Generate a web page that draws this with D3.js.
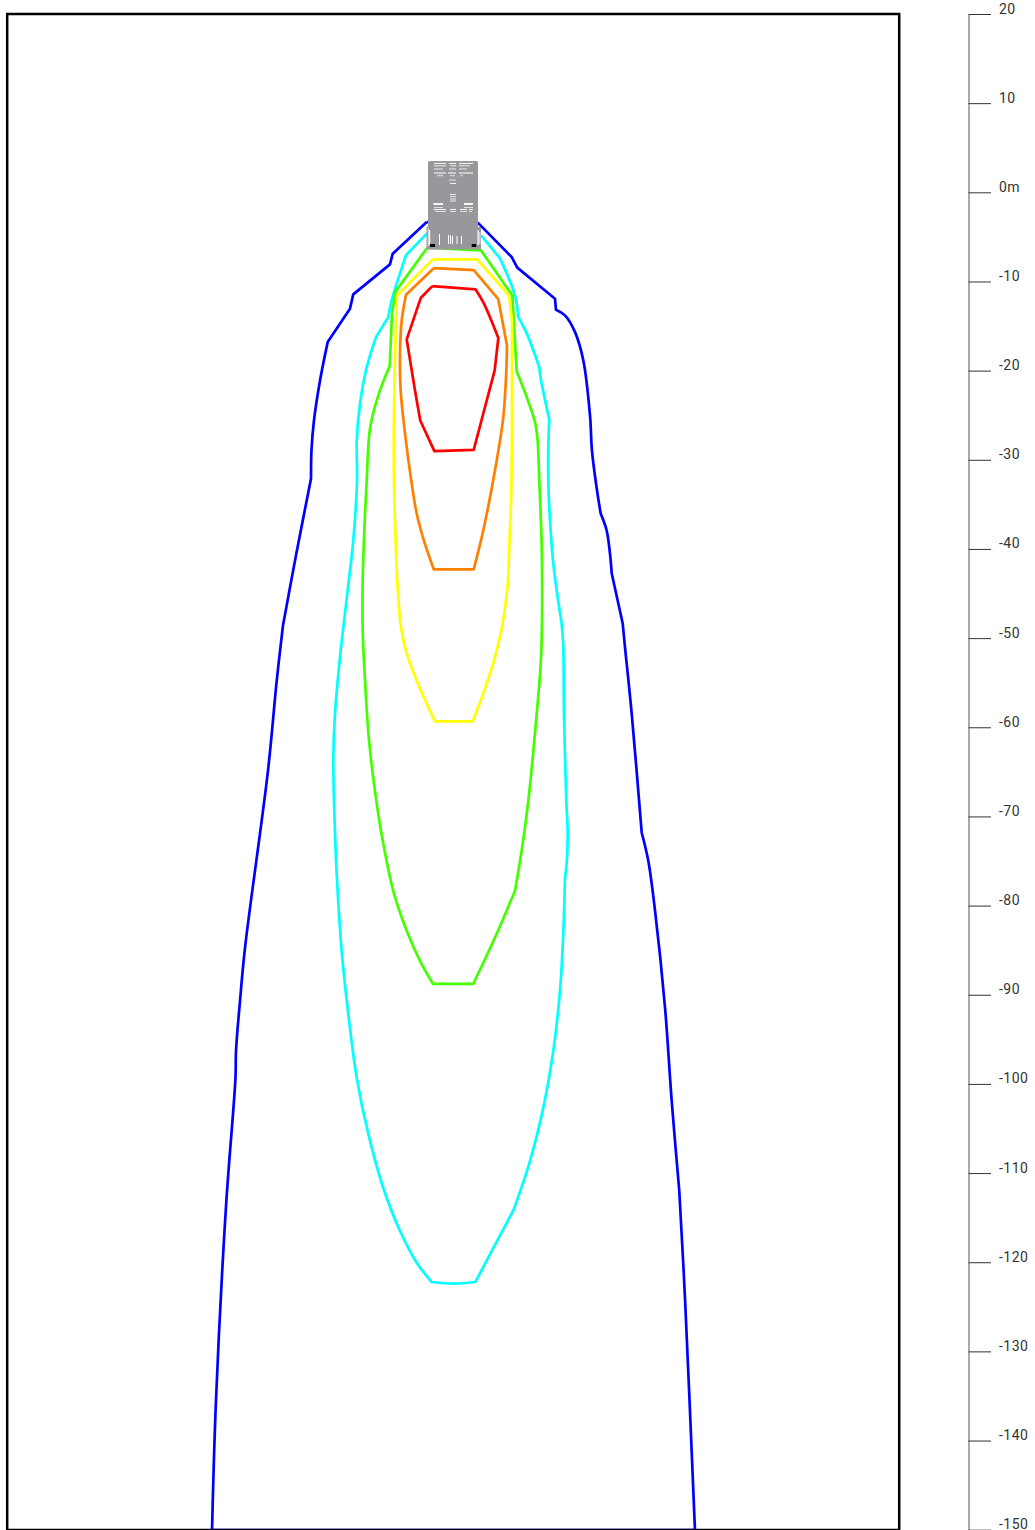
<!DOCTYPE html>
<html>
<head>
<meta charset="utf-8">
<script src="https://cdn.jsdelivr.net/npm/d3@7"></script>
<style>html,body{margin:0;padding:0;background:#fff}svg{display:block}</style>
</head>
<body>
<svg id="chart" width="1035" height="1530"></svg>
<script>
// Isolines: [x metres, y metres]
const contourBlue = [[-3.01,-3.33],[-6.82,-6.88],[-7.13,-8.08],[-11.25,-11.45],[-11.62,-13.05],[-14.12,-16.8],[-14.98,-21.1],[-15.66,-25.59],[-15.94,-28.96],[-15.99,-32.1],[-17.68,-40.74],[-19.14,-48.6],[-19.84,-54.77],[-20.82,-64.87],[-23.4,-84.74],[-23.96,-90.68],[-24.41,-96.3],[-24.47,-99.33],[-25.53,-113.69],[-26.66,-135.58],[-27.1,-150.05],[27.1,-150.05],[25.98,-123.98],[25.34,-112.01],[24.49,-101.91],[23.74,-91.44],[22.62,-80.58],[21.86,-74.97],[21.12,-71.8],[20,-58.47],[19.25,-51.03],[18.99,-48.37],[17.76,-42.76],[17.56,-40.52],[17.19,-37.93],[16.52,-36.03],[16.11,-33.45],[15.54,-28.96],[15.32,-25.03],[14.57,-18.86],[13.64,-15.68],[12.51,-13.8],[11.5,-13.16],[11.39,-11.93],[7.16,-8.45],[6.53,-7.26],[2.78,-3.45]];
const contourCyan = [[-2.83,-4.46],[-5.33,-7.04],[-6.37,-10.21],[-6.94,-12.12],[-7.32,-14],[-8.7,-16.24],[-9.74,-19.61],[-10.49,-23.68],[-10.86,-27.83],[-10.83,-32.32],[-11.25,-39.06],[-11.92,-45.01],[-12.74,-52.15],[-13.3,-58.47],[-13.49,-63.38],[-13.41,-68.24],[-13.11,-76.43],[-12.55,-85.07],[-11.81,-92.14],[-10.86,-99.33],[-9.56,-105.61],[-7.88,-111.67],[-6,-116.5],[-4.13,-120.05],[-2.45,-122.22],[-0.02,-122.41],[2.45,-122.22],[6.79,-114.03],[8.59,-108.64],[10.08,-102.66],[11.2,-96.3],[11.95,-89.56],[12.32,-83.16],[12.51,-76.99],[12.7,-75.31],[12.82,-71.94],[12.66,-68.24],[12.4,-58.47],[12.32,-51.03],[12.14,-48.37],[11.2,-41.64],[10.75,-35.32],[10.64,-32.32],[10.64,-28.59],[10.75,-25.48],[9.79,-20.88],[9.63,-19.61],[8.22,-15.82],[7.27,-14],[6.9,-11.56],[5.22,-7.41],[3.16,-4.9]];
const contourGreen = [[-2.94,-6.21],[-6.49,-11.11],[-6.9,-13.58],[-7.16,-19.49],[-8.44,-22.78],[-9.37,-26.49],[-9.74,-32.32],[-10.01,-37.93],[-10.19,-43.55],[-10.19,-49.16],[-9.93,-54.77],[-9.48,-61.5],[-8.66,-68.24],[-7.88,-73.06],[-6.76,-78.34],[-5.25,-82.83],[-3.76,-86.2],[-2.3,-88.78],[2.22,-88.78],[4.85,-83.16],[6.9,-78.34],[7.65,-73.85],[8.4,-68.24],[9.34,-58.47],[9.79,-52.86],[9.93,-48.04],[9.9,-39.81],[9.63,-32.32],[9.41,-27.46],[9.15,-25.78],[8.22,-22.97],[7.09,-20.06],[6.6,-11.56],[3.09,-6.51]];
const contourYellow = [[-2.33,-7.52],[2.64,-7.52],[6.23,-11.56],[6.57,-14.37],[6.49,-33.45],[6.26,-39.81],[6.12,-43.55],[5.7,-47.25],[4.85,-51.4],[3.54,-55.67],[2.15,-59.34],[-2.08,-59.34],[-4.13,-54.77],[-5.44,-51.03],[-6,-48.04],[-6.31,-43.55],[-6.53,-37.93],[-6.68,-32.32],[-6.64,-21.89],[-6.34,-11.59]];
const contourOrange = [[-2.19,-8.5],[2.27,-8.72],[5.03,-11.98],[6,-17.17],[5.93,-19.98],[5.59,-25.22],[4.85,-30.08],[3.34,-37.93],[2.27,-42.28],[-2.22,-42.28],[-3.39,-38.83],[-4.13,-36.03],[-4.74,-32.32],[-5.44,-27.05],[-5.93,-22.22],[-6,-18.07],[-5.81,-14.37],[-5.33,-11.48]];
const contourRed = [[-2.38,-10.52],[2.49,-10.89],[3.42,-12.49],[5.03,-16.35],[4.62,-19.98],[2.27,-28.88],[-2.15,-29.03],[-3.73,-25.59],[-4.32,-22.22],[-5.25,-16.5],[-3.68,-11.86]];
const contours = [contourBlue, contourCyan, contourGreen, contourYellow, contourOrange, contourRed];
const contourColors = ["#0000ff", "#00ffff", "#44ff00", "#ffff00", "#ff8000", "#ff0000"];
// Vertex numbers where an isoline has a sharp bend; the rest of each line runs smoothly
const contourCorners = [
  [0,1,2,3,4,5,9,11,20,21,23,28,31,32,35,42,43,44,45,46],
  [0,1,4,5,24,26,27,33,39,44,46,48,50,51],
  [0,1,2,3,17,18,20,31,32,33],
  [0,1,2,3,10,11,14,19],
  [0,1,2,3,8,9,17],
  [0,1,3,4,5,6,7,9,10]
];
const tickValues = [20,10,0,-10,-20,-30,-40,-50,-60,-70,-80,-90,-100,-110,-120,-130,-140,-150];
const tickLabels = ["20","10","0m","-10","-20","-30","-40","-50","-60","-70","-80","-90","-100","-110","-120","-130","-140","-150"];

const svg = d3.select("#chart");
const x = d3.scaleLinear().domain([-50, 50]).range([8, 899]);
const y = d3.scaleLinear().domain([20, -150]).range([14, 1529.7]);

svg.append("line").attr("x1", 7).attr("x2", 899).attr("y1", 1528.5).attr("y2", 1528.5).attr("stroke", "#bbb").attr("stroke-width", 1);

// Contours
const line = d3.line().x(d => x(d[0])).y(d => y(d[1])).curve(d3.curveCatmullRomClosed.alpha(0.5));
svg.append("g").selectAll("path").data(contours).join("path")
  .attr("d", (pts, k) => line(pts.flatMap((p, i) => contourCorners[k].includes(i) ? [p, p] : [p])))
  .attr("fill", "none")
  .attr("stroke", (d, i) => contourColors[i])
  .attr("stroke-width", 2.7).attr("stroke-linejoin", "round");

// Frame
svg.append("path").attr("d", "M7.2,1530.3V13.9H899.2V1530.3Z").attr("fill", "none").attr("stroke", "#000").attr("stroke-width", 2.5);

// Luminaire icon
const icon = svg.append("g");
const grey = "#98989c";
icon.append("rect").attr("x", 428).attr("y", 161).attr("width", 50).attr("height", 70).attr("rx", 1.5).attr("fill", grey);
icon.append("rect").attr("x", 426.5).attr("y", 227).attr("width", 54.5).attr("height", 22.5).attr("fill", grey);
icon.append("rect").attr("x", 428).attr("y", 228).attr("width", 50).attr("height", 21).attr("fill", grey);
const iconStripes = [
 [163.4,434,446,.9],[163.4,449,456,.9],[163.4,459,473,.9],
 [165.8,434,446,.8],[165.8,450,456,.8],[165.8,459,470,.8],
 [169,434,443,.8],[169,449,456,.8],[169,459,467,.8],
 [173,434,446,1],[173,448,456,1],[173,459,473,1],
 [175.8,437,443,.7],[175.8,450,455,.7],[175.8,460,463,.7],
 [180,449,456,.7],[183.4,450,456,.9],
 [194.5,450,456,.8],[196.7,450,456,.8],[199,450,456,.8],[201,450,456,.8],
 [204,433.5,443,1.8],[204,464,473,1.8],
 [207.4,434,443,.7],[207.4,464,473,.7],
 [209.5,433.5,446,.9],[209.5,450,456,.9],[209.5,460,467,.9],[209.5,469,473,.9],
 [211.5,435,446,.7],[211.5,450,456,.7],[211.5,460,467,.7],[211.5,469,472,.7]
];
icon.selectAll("rect.s").data(iconStripes).join("rect").attr("class", "s")
  .attr("x", d => d[1]).attr("y", d => d[0] - d[3] / 2).attr("width", d => d[2] - d[1]).attr("height", d => d[3]).attr("fill", "#fff");
const iconTicks = [[429,230,1.2,15],[439,234,1,11],[448,235,1,9],[450,235,1,9],[452,236,1,8],[456.5,236,1,8],[461,236,1,8],[477.5,230,1.2,15],[427.8,228,.8,18],[479.5,232,.8,12]];
icon.selectAll("rect.t").data(iconTicks).join("rect").attr("class", "t")
  .attr("x", d => d[0]).attr("y", d => d[1]).attr("width", d => d[2]).attr("height", d => d[3]).attr("fill", "#fff");
icon.selectAll("rect.b").data([[430,244,5,3],[471.7,244,4.5,3]]).join("rect").attr("class", "b")
  .attr("x", d => d[0]).attr("y", d => d[1]).attr("width", d => d[2]).attr("height", d => d[3]).attr("fill", "#000");

// Scale ruler
const axis = d3.axisRight(y).tickValues(tickValues)
  .tickFormat((d, i) => tickLabels[i]).tickSize(22.5).tickSizeOuter(0).tickPadding(8);
const ag = svg.append("g").attr("transform", "translate(968.5,0)").call(axis);
ag.select(".domain").attr("stroke", "#555").attr("stroke-width", 1);
ag.selectAll(".tick line").attr("stroke", "#333").attr("stroke-width", 1);
ag.selectAll(".tick text").attr("font-family", "Roboto").attr("font-size", 14).attr("letter-spacing", 0.5).attr("fill", "#333").attr("dy", 0).attr("y", 0)
  .attr("transform", "translate(0,-1)");
</script>
</body>
</html>
